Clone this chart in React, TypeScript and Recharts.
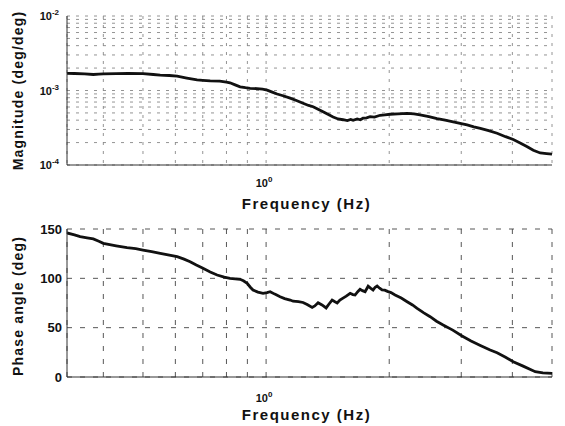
import React from 'react';
import { LineChart, Line, XAxis, YAxis, CartesianGrid } from 'recharts';

// ---------- data ----------
const magFreq = [
  0.326, 0.34, 0.36, 0.378, 0.39, 0.4, 0.43, 0.46, 0.5, 0.53, 0.551, 0.58, 0.606, 0.64, 0.678, 0.7,
  0.73, 0.77, 0.8, 0.816, 0.84, 0.864, 0.89, 0.914, 0.95, 0.98, 1.006, 1.035, 1.064, 1.1, 1.145,
  1.19, 1.231, 1.27, 1.303, 1.34, 1.378, 1.42, 1.458, 1.5, 1.542, 1.58, 1.61, 1.632, 1.67, 1.7,
  1.726, 1.76, 1.796, 1.84, 1.9, 1.95, 2.01, 2.1, 2.212, 2.3, 2.379, 2.5, 2.618, 2.74, 2.866, 3.0,
  3.1, 3.22, 3.34, 3.5, 3.67, 3.85, 4.02, 4.18, 4.35, 4.5, 4.68, 4.85, 5.0,
];
const magValues = [
  1.70e-3, 1.69e-3, 1.67e-3, 1.64e-3, 1.66e-3, 1.67e-3, 1.68e-3, 1.69e-3, 1.68e-3, 1.64e-3, 1.61e-3,
  1.59e-3, 1.56e-3, 1.47e-3, 1.39e-3, 1.37e-3, 1.35e-3, 1.34e-3, 1.30e-3, 1.27e-3, 1.19e-3, 1.12e-3,
  1.09e-3, 1.07e-3, 1.06e-3, 1.04e-3, 1.01e-3, 9.5e-4, 8.97e-4, 8.5e-4, 7.9e-4, 7.3e-4, 6.75e-4,
  6.3e-4, 6.05e-4, 5.6e-4, 5.2e-4, 4.75e-4, 4.4e-4, 4.15e-4, 4.05e-4, 3.95e-4, 4.08e-4, 3.98e-4,
  4.15e-4, 4.05e-4, 4.25e-4, 4.3e-4, 4.45e-4, 4.4e-4, 4.65e-4, 4.7e-4, 4.8e-4, 4.85e-4, 4.94e-4,
  4.85e-4, 4.7e-4, 4.45e-4, 4.2e-4, 4.0e-4, 3.8e-4, 3.6e-4, 3.45e-4, 3.25e-4, 3.1e-4, 2.9e-4,
  2.67e-4, 2.4e-4, 2.2e-4, 1.98e-4, 1.76e-4, 1.58e-4, 1.45e-4, 1.42e-4, 1.40e-4,
];

const phaseFreq = [
  0.326, 0.34, 0.351, 0.365, 0.378, 0.39, 0.4, 0.43, 0.457, 0.48, 0.5, 0.525, 0.551, 0.58, 0.606,
  0.63, 0.652, 0.675, 0.701, 0.73, 0.759, 0.79, 0.816, 0.84, 0.864, 0.88, 0.899, 0.915, 0.929, 0.955,
  0.983, 1.005, 1.023, 1.05, 1.082, 1.11, 1.145, 1.164, 1.2, 1.231, 1.26, 1.296, 1.315, 1.34, 1.37,
  1.402, 1.425, 1.45, 1.47, 1.492, 1.515, 1.542, 1.57, 1.605, 1.63, 1.65, 1.675, 1.697, 1.72, 1.746,
  1.776, 1.8, 1.826, 1.848, 1.868, 1.895, 1.921, 1.95, 1.987, 2.02, 2.067, 2.14, 2.212, 2.28, 2.34,
  2.43, 2.518, 2.61, 2.709, 2.86, 3.014, 3.17, 3.34, 3.53, 3.67, 3.85, 4.02, 4.25, 4.55, 4.75, 5.0,
];
const phaseValues = [
  146, 144, 142.2, 141, 139.9, 137.5, 135.5, 133, 131.1, 130, 128.7, 127, 125.4, 123.5, 121.9,
  119.5, 116.9, 113.5, 110.2, 106.5, 103.4, 101.2, 100, 99.5, 99, 97.5, 95, 91, 88.2, 86,
  84.8, 85.5, 86.5, 84, 81.4, 79.5, 78, 76.8, 76.5, 75.5, 73.5, 70.5, 72, 75.3, 73,
  70, 74, 78, 76.5, 75, 78, 80, 82, 84.8, 83.5, 83.1, 86.5, 88.9, 87.5, 86.5,
  92, 90, 88.2, 91, 92.2, 90, 88.2, 88, 86.5, 85.5, 83.1, 80, 76.3, 73, 69.6,
  65, 61.1, 56.5, 52.7, 47.5, 41.5, 36.5, 32, 27.4, 24.5, 20, 15.5, 11, 5.4, 4.2, 3.7,
];

const xDomain = [0.326, 5.0];
const xTicks = [0.4, 0.5, 0.6, 0.7, 0.8, 0.9, 1, 2, 3, 4];
const magDomain = [1e-4, 1e-2];
const magTicks = [
  1e-4, 2e-4, 3e-4, 4e-4, 5e-4, 6e-4, 7e-4, 8e-4, 9e-4,
  1e-3, 2e-3, 3e-3, 4e-3, 5e-3, 6e-3, 7e-3, 8e-3, 9e-3, 1e-2,
];
const phaseDomain = [0, 150];
const phaseTicks = [0, 50, 100, 150];

const xTitle = 'Frequency (Hz)';
const magTitle = 'Magnitude (deg/deg)';
const phaseTitle = 'Phase angle (deg)';

const magData = magFreq.map((f, i) => ({ f, v: magValues[i] }));
const phaseData = phaseFreq.map((f, i) => ({ f, v: phaseValues[i] }));

// ---------- styles ----------
const FONT = '"Liberation Sans", Arial, Helvetica, sans-serif';
const W = 565;
const H = 213;
const MARGIN = { top: 16, right: 13, left: 0, bottom: 8 };

const isDecade = (v: number) => {
  const l = Math.log10(v);
  return Math.abs(l - Math.round(l)) < 1e-6;
};

const XTick = (props: any) => {
  const { x, y, payload, off = 12 } = props;
  if (!isDecade(payload.value)) return null;
  const e = Math.round(Math.log10(payload.value));
  return (
    <text x={x - 2} y={y + off} textAnchor="middle" fontFamily={FONT} fontWeight="bold" fill="#111">
      <tspan fontSize={11}>10</tspan>
      <tspan fontSize={8} dy={-5}>{e}</tspan>
    </text>
  );
};

const MagTick = (props: any) => {
  const { x, y, payload } = props;
  if (!isDecade(payload.value)) return null;
  const e = Math.round(Math.log10(payload.value));
  return (
    <text x={x} y={y + 4} textAnchor="end" fontFamily={FONT} fontWeight="bold" fill="#111">
      <tspan fontSize={11}>10</tspan>
      <tspan fontSize={8} dy={-5}>{e}</tspan>
    </text>
  );
};

const PhaseTick = (props: any) => {
  const { x, y, payload } = props;
  return (
    <text x={x + 3} y={y} dy="0.35em" textAnchor="end" fontFamily={FONT} fontWeight="bold" fontSize={13} fill="#111">
      {payload.value}
    </text>
  );
};

const XTitle = (props: any) => {
  const vb = props.viewBox || {};
  const cx = vb.x + vb.width / 2 - 3;
  const cy = vb.y + (props.off || 39);
  return (
    <text x={cx} y={cy} dy="0.35em" textAnchor="middle" fontFamily={FONT} fontWeight="bold" fontSize={15} letterSpacing={1.5} fill="#111">
      {props.text}
    </text>
  );
};

const YTitle = (props: any) => {
  const vb = props.viewBox || {};
  const cy = vb.y + vb.height / 2 + (props.shift || 0);
  const cx = 18;
  return (
    <text x={cx} y={cy} dy="0.35em" transform={`rotate(-90, ${cx}, ${cy})`} textAnchor="middle" fontFamily={FONT} fontWeight="bold" fontSize={14} letterSpacing={1.2} fill="#111">
      {props.text}
    </text>
  );
};

const boxAxes = [
  <XAxis key="xt" xAxisId="top" orientation="top" type="number" scale="log" domain={xDomain} allowDataOverflow height={0} tick={false} tickLine={false} axisLine={{ stroke: '#666', strokeDasharray: '2 1' }} />,
  <YAxis key="yr" yAxisId="right" orientation="right" type="number" domain={[0, 1]} width={0} tick={false} tickLine={false} axisLine={{ stroke: '#666', strokeDasharray: '2 1' }} />,
];

export default function App() {
  return (
    <div style={{ position: 'absolute', left: 0, top: 0, width: W, height: 426, background: '#fff' }}>
      <LineChart width={W} height={H} data={magData} margin={MARGIN}>
        <CartesianGrid stroke="#888" strokeDasharray="3 6" strokeWidth={0.9} />
        <XAxis dataKey="f" type="number" scale="log" domain={xDomain} allowDataOverflow ticks={xTicks}
          tick={<XTick off={14} />} tickLine={false} axisLine={{ stroke: '#333' }} height={40} interval={0}
          label={<XTitle text={xTitle} off={39} />} />
        <YAxis type="number" scale="log" domain={magDomain} allowDataOverflow ticks={magTicks}
          tick={<MagTick />} tickLine={false} axisLine={{ stroke: '#333' }} width={67} interval={0}
          label={<YTitle text={magTitle} />} />
        {boxAxes}
        <Line dataKey="v" stroke="#111" strokeWidth={2.8} dot={false} isAnimationActive={false} type="linear" />
      </LineChart>
      <LineChart width={W} height={H} data={phaseData} margin={{ ...MARGIN, bottom: 9 }}>
        <CartesianGrid stroke="#444" strokeDasharray="5 8" strokeWidth={0.9} />
        <XAxis dataKey="f" type="number" scale="log" domain={xDomain} allowDataOverflow ticks={xTicks}
          tick={<XTick off={17} />} tickLine={false} axisLine={{ stroke: '#333' }} height={40} interval={0}
          label={<XTitle text={xTitle} off={38} />} />
        <YAxis type="number" domain={phaseDomain} allowDataOverflow ticks={phaseTicks}
          tick={<PhaseTick />} tickLine={false} axisLine={{ stroke: '#333' }} width={67} interval={0}
          label={<YTitle text={phaseTitle} shift={3} />} />
        {boxAxes}
        <Line dataKey="v" stroke="#111" strokeWidth={2.8} dot={false} isAnimationActive={false} type="linear" />
      </LineChart>
    </div>
  );
}
